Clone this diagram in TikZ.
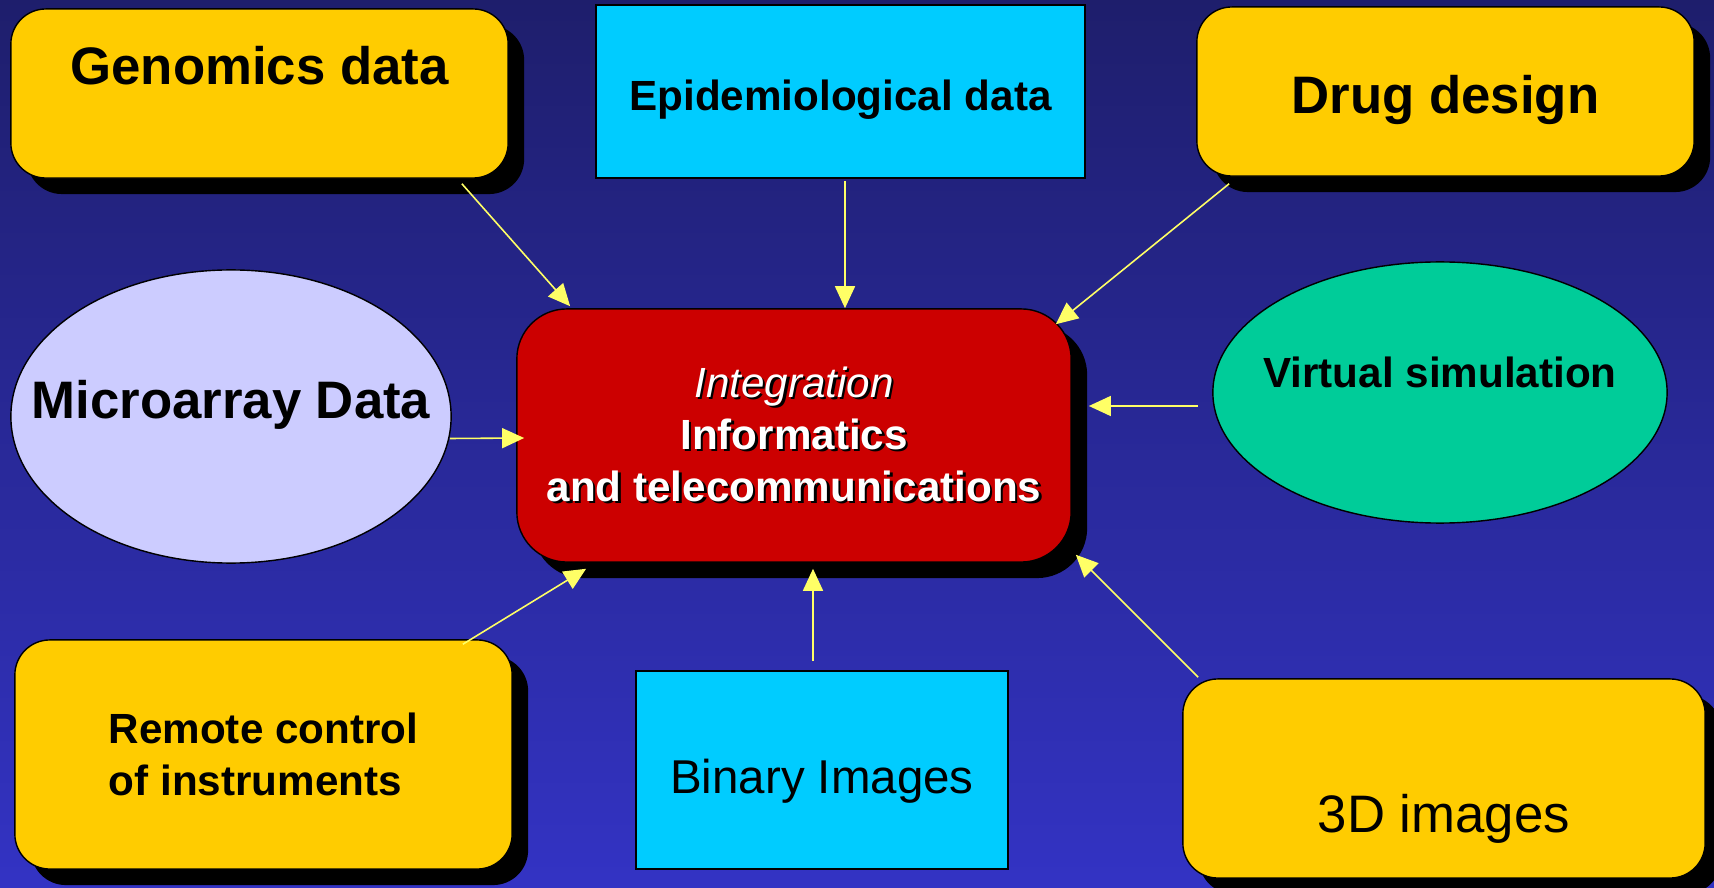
\documentclass[tikz,border=0pt]{standalone}
\usepackage{fontspec}
\setmainfont{Liberation Sans}
\usetikzlibrary{shapes,arrows.meta,positioning,shadows,calc}
\definecolor{bgtop}{RGB}{30,30,108}
\definecolor{bgbot}{RGB}{51,51,196}
\definecolor{gold}{RGB}{255,204,0}
\definecolor{sky}{RGB}{0,204,255}
\definecolor{darkred}{RGB}{204,0,0}
\definecolor{lilac}{RGB}{204,204,255}
\definecolor{seagreen}{RGB}{0,204,153}
\definecolor{arrowyellow}{RGB}{255,255,102}
\newcommand{\shadowed}[1]{\makebox[0pt]{\raisebox{-0.7pt}{\hspace*{1.4pt}\textcolor{black}{#1}}}\makebox[0pt]{#1}}

\begin{document}
\begin{tikzpicture}[x=0.01cm, y=-0.01cm,
	bigtext/.style={font=\fontsize{15pt}{18pt}\selectfont\bfseries},
	midtext/.style={font=\fontsize{12pt}{14.8pt}\selectfont\bfseries},
	card/.style={rectangle, rounded corners=0.35cm, draw=black, fill=gold, drop shadow={shadow xshift=0.16cm, shadow yshift=-0.16cm, opacity=1, fill=black}},
	plainbox/.style={rectangle, draw=black, fill=sky},
	blob/.style={ellipse, draw=black},
	link/.style={draw=arrowyellow, line width=0.45pt, -{Triangle[length=0.22cm, width=0.2cm]}}]
				\useasboundingbox (0,0) rectangle (1714,888);
				\clip (0,0) rectangle (1714,888);
				\shade[top color=bgtop, bottom color=bgbot] (0,0) rectangle (1714,888);
				
				% top row
				\node[card, bigtext, minimum width=4.97cm, minimum height=1.69cm, text height=0.395cm, text depth=0.567cm] (genomics) at (259.5,93.5) {Genomics data};
				\node[plainbox, midtext, minimum width=4.89cm, minimum height=1.73cm, text height=0.372cm, text depth=0cm] (epi) at (840.5,91.5) {Epidemiological data};
				\node[card, bigtext, minimum width=4.97cm, minimum height=1.69cm, text height=0.448cm, text depth=0cm] (drug) at (1445.5,91.5) {Drug design};
				
				% middle row
				\node[blob, fill=lilac, bigtext, minimum width=4.40cm, minimum height=2.93cm, text height=0.395cm, text depth=0.357cm] (micro) at (231,416.5) {\makebox[0pt]{Microarray Data}};
				\node[card, midtext, fill=darkred, text=white, rounded corners=0.5cm, align=center, minimum width=5.54cm, minimum height=2.53cm] (central) at (794,435.5) {\shadowed{\mdseries\itshape Integration}\\\shadowed{Informatics}\\\shadowed{and telecommunications}};
				\node[blob, fill=seagreen, midtext, minimum width=4.54cm, minimum height=2.61cm, text height=0.317cm, text depth=0.425cm] (virtual) at (1440,392.5) {\makebox[0pt]{Virtual simulation}};
				
				% bottom row
				\node[card, midtext, align=left, minimum width=4.97cm, minimum height=2.29cm] (remote) at (263.5,754.5) {Remote control\\of instruments};
				\node[plainbox, font=\fontsize{13.5pt}{16pt}\selectfont, minimum width=3.72cm, minimum height=1.98cm, text height=0.46cm, text depth=0cm] (binary) at (822,770) {Binary Images};
				\node[card, font=\fontsize{15pt}{18pt}\selectfont, minimum width=5.22cm, minimum height=1.99cm, text height=1.088cm, text depth=0cm] (three) at (1444,778.5) {3D images};
				
				% arrows into the centre
				\draw[link] ($(genomics.south east)+(-47,5)$) -- ($(central.north west)+(54,-2)$);
				\draw[link] ($(epi.south)+(4.5,2)$) -- ($(central.north)+(51,0)$);
				\draw[link] ($(drug.south west)+(33,7)$) -- ($(central.north east)+(-16,16)$);
				\draw[link] ($(micro.east)+(-2,22)$) -- ($(central.west)+(8,2.5)$);
				\draw[link] ($(virtual.west)+(-14,13.5)$) -- ($(central.east)+(17,-29.5)$);
				\draw[link] ($(remote.north east)+(-50,5)$) -- ($(central.south west)+(70,6)$);
				\draw[link] ($(binary.north)+(-9,-9)$) -- ($(central.south)+(19,6)$);
				\draw[link] ($(three.north west)+(16,-1)$) -- ($(central.south east)+(4,-8)$);
			\end{tikzpicture}
\end{document}
